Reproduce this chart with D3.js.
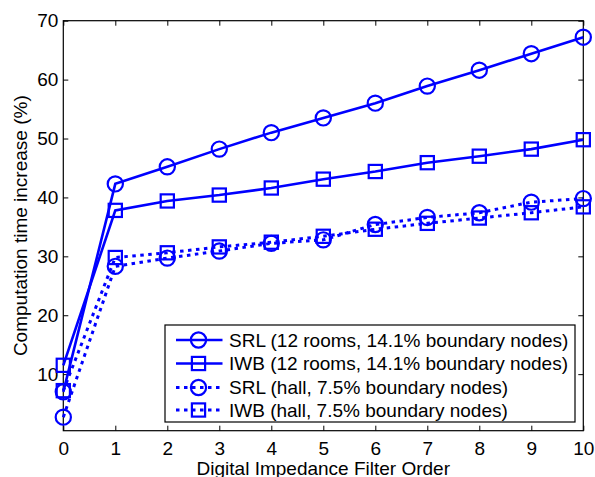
<!DOCTYPE html>
<html>
<head>
<meta charset="utf-8">
<script src="https://cdn.jsdelivr.net/npm/d3@7"></script>
<style>
  body { margin: 0; background: #fff; }
  svg text { font-family: "Liberation Sans", Arial, Helvetica, sans-serif; fill: #000; }
</style>
</head>
<body>
<script>
const orders = [0, 1, 2, 3, 4, 5, 6, 7, 8, 9, 10];
const srlRooms = [7.0, 42.3, 45.2, 48.2, 51.0, 53.5, 56.0, 58.9, 61.6, 64.4, 67.2];
const iwbRooms = [11.5, 37.8, 39.4, 40.4, 41.6, 43.1, 44.4, 45.9, 47.0, 48.2, 49.8];
const srlHall = [2.7, 28.3, 29.7, 30.9, 32.2, 32.8, 35.4, 36.6, 37.4, 39.2, 39.8];
const iwbHall = [7.2, 29.8, 30.6, 31.6, 32.4, 33.4, 34.6, 35.6, 36.5, 37.4, 38.4];
const seriesNames = [
  "SRL (12 rooms, 14.1% boundary nodes)",
  "IWB (12 rooms, 14.1% boundary nodes)",
  "SRL (hall, 7.5% boundary nodes)",
  "IWB (hall, 7.5% boundary nodes)"
];
const yTicks = [10, 20, 30, 40, 50, 60, 70];

const W = 595, H = 477;
const L = 63.3, R = 583.3, T = 20.7, B = 430.7;
const BLUE = "#0000ff";
const FS = "19px";

const series = [
  { name: seriesNames[0], values: srlRooms, marker: "circle", dotted: false },
  { name: seriesNames[1], values: iwbRooms, marker: "square", dotted: false },
  { name: seriesNames[2], values: srlHall, marker: "circle", dotted: true },
  { name: seriesNames[3], values: iwbHall, marker: "square", dotted: true }
];

const xScale = d3.scaleLinear().domain([0, 10]).range([L, R]);
const yScale = d3.scaleLinear().domain([0.4, 70]).range([B, T]);

const svg = d3.select("body").append("svg")
  .attr("width", W)
  .attr("height", H);

// axes (box with inward ticks on all sides)
const xAxis = d3.axisBottom(xScale).tickValues(orders).tickFormat(d3.format("d"))
  .tickSizeInner(-5).tickSizeOuter(0).tickPadding(10.5);
const yAxis = d3.axisLeft(yScale).tickValues(yTicks).tickFormat(d3.format("d"))
  .tickSizeInner(-5).tickSizeOuter(0).tickPadding(5);
const xTop = d3.axisTop(xScale).tickValues(orders).tickFormat("").tickSizeInner(-5).tickSizeOuter(0);
const yRight = d3.axisRight(yScale).tickValues(yTicks).tickFormat("").tickSizeInner(-5).tickSizeOuter(0);

function styleAxis(g) {
  g.select(".domain").remove();
  g.selectAll(".tick line").attr("stroke", "#000").attr("stroke-width", 1);
  g.selectAll("text").style("font-size", FS).attr("fill", "#000");
}

svg.append("g").attr("transform", `translate(0,${B})`).call(xAxis).call(styleAxis);
svg.append("g").attr("transform", `translate(${L},0)`).call(yAxis).call(styleAxis);
svg.append("g").attr("transform", `translate(0,${T})`).call(xTop).call(styleAxis);
svg.append("g").attr("transform", `translate(${R},0)`).call(yRight).call(styleAxis);

svg.append("rect")
  .attr("x", L).attr("y", T)
  .attr("width", R - L).attr("height", B - T)
  .attr("fill", "none")
  .attr("stroke", "#000")
  .attr("stroke-width", 1.2);

// axis labels
svg.append("text")
  .attr("x", (L + R) / 2).attr("y", 474.5)
  .attr("text-anchor", "middle")
  .style("font-size", FS)
  .text("Digital Impedance Filter Order");

svg.append("text")
  .attr("transform", `translate(26.5,${(T + B) / 2}) rotate(-90)`)
  .attr("text-anchor", "middle")
  .style("font-size", FS)
  .text("Computation time increase (%)");

// lines + markers
function drawMarker(g, type, cx, cy) {
  if (type === "circle") {
    g.append("circle")
      .attr("cx", cx).attr("cy", cy).attr("r", 7.6)
      .attr("fill", "none").attr("stroke", BLUE).attr("stroke-width", 2.2);
  } else {
    g.append("rect")
      .attr("x", cx - 6.6).attr("y", cy - 6.6)
      .attr("width", 13.2).attr("height", 13.2)
      .attr("fill", "none").attr("stroke", BLUE).attr("stroke-width", 2.2);
  }
}

const line = d3.line()
  .x((d, i) => xScale(orders[i]))
  .y(d => yScale(d));

const plot = svg.append("g");
series.forEach(s => {
  plot.append("path")
    .datum(s.values)
    .attr("d", line)
    .attr("fill", "none")
    .attr("stroke", BLUE)
    .attr("stroke-width", s.dotted ? 3 : 2.6)
    .attr("stroke-dasharray", s.dotted ? "3.5,4.5" : null);
  s.values.forEach((v, i) => drawMarker(plot, s.marker, xScale(orders[i]), yScale(v)));
});

// legend
const legend = svg.append("g");
legend.append("rect")
  .attr("x", 165).attr("y", 325)
  .attr("width", 410).attr("height", 97)
  .attr("fill", "#fff")
  .attr("stroke", "#000")
  .attr("stroke-width", 1.2);

const rowY = [340, 363.5, 387.5, 410];
series.forEach((s, i) => {
  const y = rowY[i];
  legend.append("line")
    .attr("x1", 176).attr("x2", 222.5)
    .attr("y1", y).attr("y2", y)
    .attr("stroke", BLUE)
    .attr("stroke-width", s.dotted ? 3 : 2.6)
    .attr("stroke-dasharray", s.dotted ? "3.5,4.5" : null);
  drawMarker(legend, s.marker, 198.5, y);
  legend.append("text")
    .attr("x", 229).attr("y", y)
    .attr("dy", "0.36em")
    .style("font-size", FS)
    .text(s.name);
});
</script>
</body>
</html>
